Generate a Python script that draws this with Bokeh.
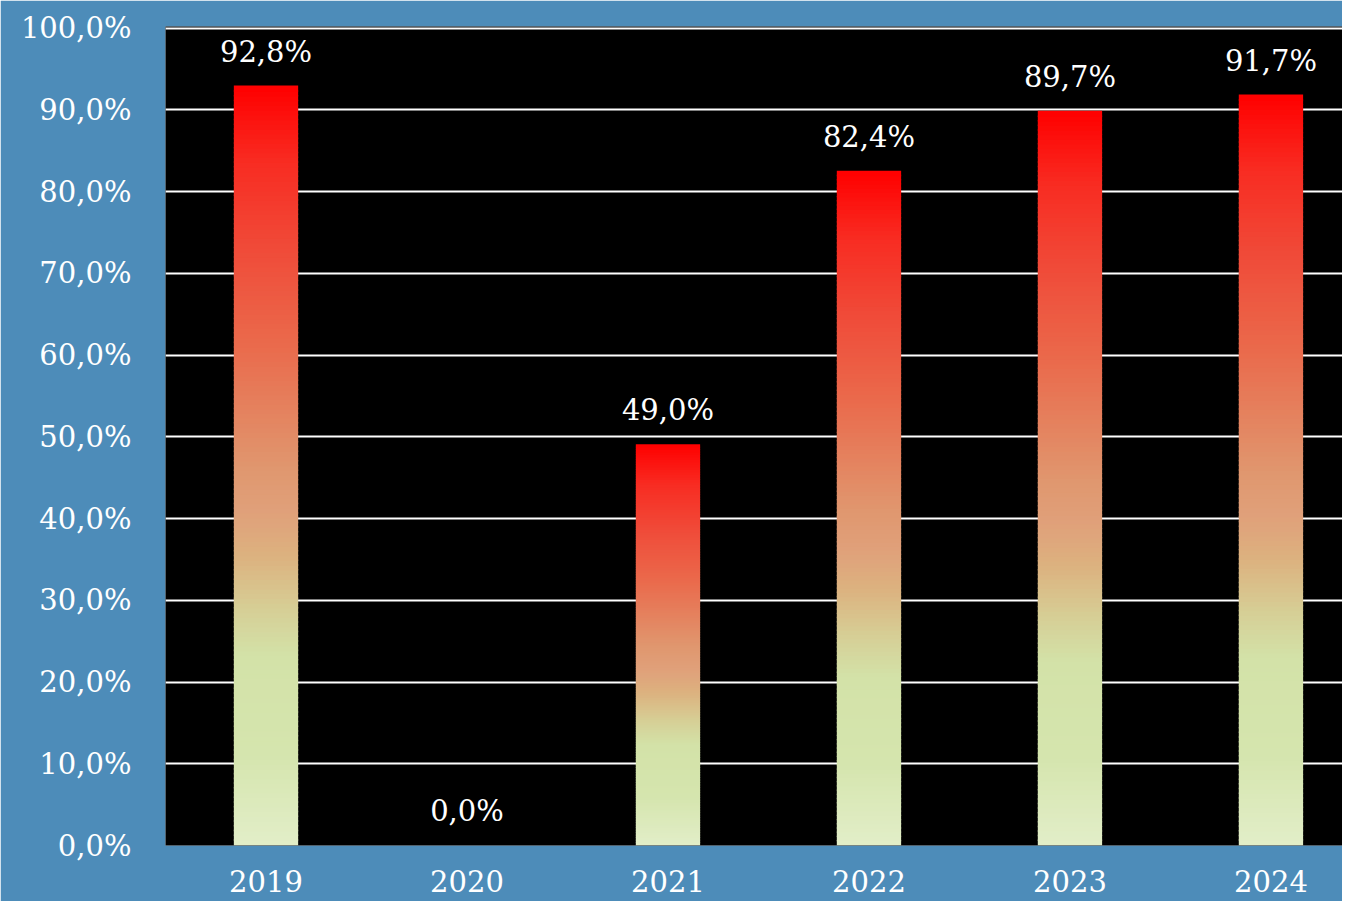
from bokeh.plotting import figure
from bokeh.embed import file_html
from bokeh.resources import INLINE
from bokeh.models import FixedTicker
from bokeh.core.properties import value

# ---- data ----
years = ["2019", "2020", "2021", "2022", "2023", "2024"]
rates = [92.8, 0.0, 49.0, 82.4, 89.7, 91.7]
value_labels = ["92,8%", "0,0%", "49,0%", "82,4%", "89,7%", "91,7%"]
y_ticks = [0, 10, 20, 30, 40, 50, 60, 70, 80, 90, 100]
y_tick_labels = ["0,0%", "10,0%", "20,0%", "30,0%", "40,0%", "50,0%",
                 "60,0%", "70,0%", "80,0%", "90,0%", "100,0%"]

# gradient stops (fraction of bar height from bottom, colour)
grad_pos = [0.0, 0.12, 0.25, 0.31, 0.38, 0.44, 0.50, 0.66, 0.79, 0.90, 1.0]
grad_col = ["#e2eec8", "#d5e5ae", "#d3e2a8", "#d6cf96", "#dcb27f", "#e0a07a",
            "#e0966e", "#ea6a4c", "#f04a38", "#f82c22", "#ff0000"]

FONT = "DejaVu Serif"


def hex2rgb(h):
    h = h.lstrip("#")
    return tuple(int(h[i:i + 2], 16) for i in (0, 2, 4))


def interp_color(t):
    for i in range(len(grad_pos) - 1):
        if grad_pos[i] <= t <= grad_pos[i + 1]:
            a, b = hex2rgb(grad_col[i]), hex2rgb(grad_col[i + 1])
            f = (t - grad_pos[i]) / (grad_pos[i + 1] - grad_pos[i])
            c = [round(a[k] + (b[k] - a[k]) * f) for k in range(3)]
            return "#%02x%02x%02x" % tuple(c)
    return grad_col[-1]


p = figure(width=1342, height=901, output_backend="svg", toolbar_location=None,
           x_range=(-0.5, 5.356), y_range=(0, 100.2),
           min_border_left=165, min_border_right=0, min_border_top=26,
           min_border_bottom=56)

p.background_fill_color = "#000000"
p.border_fill_color = "#4d8cb9"
p.outline_line_color = None

# gradient bars built from thin slices
BAR_W = 0.32
N = 160
L, R, B, T, C = [], [], [], [], []
for i, v in enumerate(rates):
    if v <= 0:
        continue
    for k in range(N):
        b = v * k / N
        t = v * (k + 1) / N
        L.append(i - BAR_W / 2)
        R.append(i + BAR_W / 2)
        B.append(b)
        T.append(t + v * 0.002)
        C.append(interp_color((k + 0.5) / N))
p.quad(left=L, right=R, bottom=B, top=T, fill_color=C, line_color=None)

# value labels
p.text(x=list(range(len(years))), y=rates, text=value_labels,
       text_font=value(FONT), text_font_size="29px", text_color="white",
       text_align="center", text_baseline="alphabetic", y_offset=-35)

# grid
p.xgrid.grid_line_color = None
p.ygrid.grid_line_color = "white"
p.ygrid.grid_line_width = 2
p.ygrid.ticker = FixedTicker(ticks=y_ticks)
p.ygrid.level = "underlay"

# y axis
p.yaxis.ticker = FixedTicker(ticks=y_ticks)
p.yaxis.major_label_overrides = {t: l for t, l in zip(y_ticks, y_tick_labels)}
p.yaxis.axis_line_color = None
p.yaxis.major_tick_line_color = None
p.yaxis.minor_tick_line_color = None
p.yaxis.major_label_standoff = 28
p.yaxis.major_label_text_font = FONT
p.yaxis.major_label_text_font_size = "29px"
p.yaxis.major_label_text_color = "white"

# x axis
p.xaxis.ticker = FixedTicker(ticks=list(range(len(years))))
p.xaxis.major_label_overrides = {i: y for i, y in enumerate(years)}
p.xaxis.axis_line_color = None
p.xaxis.major_tick_line_color = None
p.xaxis.minor_tick_line_color = None
p.xaxis.major_label_standoff = 18
p.xaxis.major_label_text_font = FONT
p.xaxis.major_label_text_font_size = "29px"
p.xaxis.major_label_text_color = "white"

open("out.html", "w").write(file_html(p, INLINE))
